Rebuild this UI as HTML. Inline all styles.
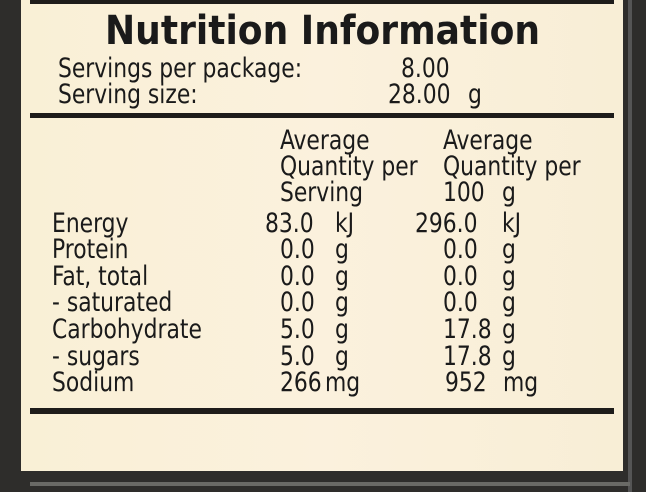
<!DOCTYPE html>
<html><head><meta charset="utf-8"><style>
html,body{margin:0;padding:0;width:646px;height:492px;overflow:hidden;background:#2b2a28}
svg{display:block}
text{font-family:"DejaVu Sans Condensed","DejaVu Sans","Liberation Sans",sans-serif;fill:#1a1a1a}
</style></head><body>
<svg width="646" height="492" viewBox="0 0 646 492">
<defs><linearGradient id="bg" x1="0" x2="1"><stop offset="0" stop-color="#f9f0d6"/><stop offset="0.5" stop-color="#fbf1dd"/><stop offset="1" stop-color="#f8eed6"/></linearGradient></defs>
<rect x="0" y="0" width="646" height="492" fill="#2e2d2b"/>
<rect x="628" y="0" width="4" height="492" fill="#555"/>
<rect x="30" y="482" width="600" height="4" fill="#6a6a66"/>
<rect x="21" y="0" width="602" height="471" fill="url(#bg)"/>
<rect x="30" y="0" width="584" height="4" fill="#1e1c1a"/>
<rect x="30" y="113" width="584" height="5" fill="#1e1c1a"/>
<rect x="30" y="408" width="584" height="6" fill="#1e1c1a"/>
<text x="105" y="44" font-size="40" font-weight="bold" textLength="435" lengthAdjust="spacingAndGlyphs" style="font-family:'DejaVu Sans',sans-serif">Nutrition Information</text>
<g font-size="27" transform="scale(0.9,1)">
<text x="64.4" y="77">Servings per package:</text>
<text x="445.6" y="77">8.00</text>
<text x="64.4" y="103">Serving size:</text>
<text x="431.1" y="103">28.00</text>
<text x="520" y="103">g</text>
<g>
<text x="311.1" y="149">Average</text>
<text x="311.1" y="175">Quantity per</text>
<text x="311.1" y="201">Serving</text>
</g>
<g>
<text x="492.2" y="149">Average</text>
<text x="492.2" y="175">Quantity per</text>
<text x="492.2" y="201">100</text><text x="557.8" y="201">g</text>
</g>
<g>
<text x="57.8" y="232">Energy</text><text x="294.4" y="232">83.0</text><text x="372.2" y="232">kJ</text><text x="461.1" y="232">296.0</text><text x="557.8" y="232">kJ</text>
<text x="57.8" y="258">Protein</text><text x="311.1" y="258">0.0</text><text x="372.2" y="258">g</text><text x="492.2" y="258">0.0</text><text x="557.8" y="258">g</text>
<text x="57.8" y="285">Fat, total</text><text x="311.1" y="285">0.0</text><text x="372.2" y="285">g</text><text x="492.2" y="285">0.0</text><text x="557.8" y="285">g</text>
<text x="57.8" y="311">- saturated</text><text x="311.1" y="311">0.0</text><text x="372.2" y="311">g</text><text x="492.2" y="311">0.0</text><text x="557.8" y="311">g</text>
<text x="57.8" y="338">Carbohydrate</text><text x="311.1" y="338">5.0</text><text x="372.2" y="338">g</text><text x="492.2" y="338">17.8</text><text x="557.8" y="338">g</text>
<text x="57.8" y="365">- sugars</text><text x="311.1" y="365">5.0</text><text x="372.2" y="365">g</text><text x="492.2" y="365">17.8</text><text x="557.8" y="365">g</text>
<text x="57.8" y="391">Sodium</text><text x="311.1" y="391">266</text><text x="361.1" y="391">mg</text><text x="494.4" y="391">952</text><text x="558.9" y="391">mg</text>
</g>
</g>
</svg>
</body></html>
